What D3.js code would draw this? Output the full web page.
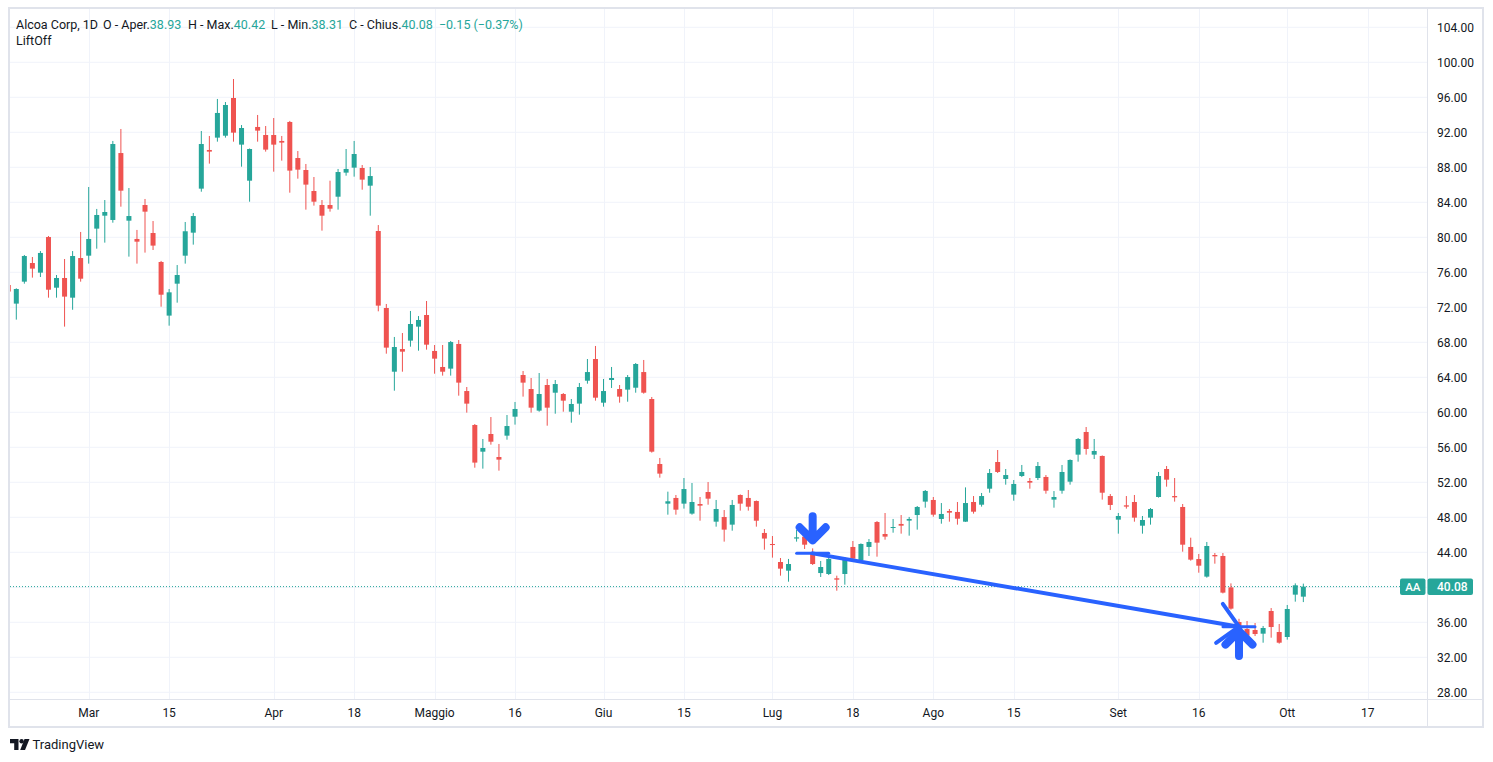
<!DOCTYPE html>
<html>
<head>
<meta charset="utf-8">
<script src="https://cdn.jsdelivr.net/npm/d3@7"></script>
<style>
  body { margin: 0; background: #ffffff; }
  text { font-family: Roboto, "Liberation Sans", sans-serif; fill: #131722; }
</style>
</head>
<body>
<div id="chart"></div>
<script>
// daily sessions (2022), month-day
var dates = [
  "02-14","02-15","02-16","02-17","02-18","02-22","02-23","02-24","02-25","02-28",
  "03-01","03-02","03-03","03-04","03-07","03-08","03-09","03-10","03-11","03-14","03-15","03-16","03-17","03-18","03-21","03-22","03-23","03-24","03-25","03-28","03-29","03-30","03-31",
  "04-01","04-04","04-05","04-06","04-07","04-08","04-11","04-12","04-13","04-14","04-18","04-19","04-20","04-21","04-22","04-25","04-26","04-27","04-28","04-29",
  "05-02","05-03","05-04","05-05","05-06","05-09","05-10","05-11","05-12","05-13","05-16","05-17","05-18","05-19","05-20","05-23","05-24","05-25","05-26","05-27","05-31",
  "06-01","06-02","06-03","06-06","06-07","06-08","06-09","06-10","06-13","06-14","06-15","06-16","06-17","06-21","06-22","06-23","06-24","06-27","06-28","06-29","06-30",
  "07-01","07-05","07-06","07-07","07-08","07-11","07-12","07-13","07-14","07-15","07-18","07-19","07-20","07-21","07-22","07-25","07-26","07-27","07-28","07-29",
  "08-01","08-02","08-03","08-04","08-05","08-08","08-09","08-10","08-11","08-12","08-15","08-16","08-17","08-18","08-19","08-22","08-23","08-24","08-25","08-26","08-29","08-30","08-31",
  "09-01","09-02","09-06","09-07","09-08","09-09","09-12","09-13","09-14","09-15","09-16","09-19","09-20","09-21","09-22","09-23","09-26","09-27","09-28","09-29","09-30",
  "10-03","10-04","10-05"
];
// empty sessions to the right of the last bar
var futureDates = ["10-06","10-07","10-10","10-11","10-12","10-13","10-14","10-17","10-18","10-19","10-20","10-21","10-24","10-25","10-26"];

var open = [74.55,72.42,74.93,77.06,75.96,80.03,74.24,75.35,73.10,77.63,
  77.90,80.99,82.47,81.98,89.63,81.90,79.81,83.69,80.49,77.18,71.05,74.70,77.90,80.53,85.56,89.98,91.39,91.61,95.92,90.59,86.47,92.61,91.69,
  91.69,91.01,93.18,89.06,87.69,85.29,83.69,83.69,84.64,87.39,87.96,87.92,85.90,80.72,71.92,64.64,67.23,68.19,69.79,71.12,
  67.01,65.18,64.99,67.81,62.43,58.55,55.50,57.52,54.89,57.33,59.50,64.26,62.66,60.19,63.12,62.24,62.09,60.07,60.99,63.61,66.09,
  61.10,63.69,62.66,62.59,62.81,64.60,61.52,54.09,49.56,50.21,49.56,48.42,49.52,50.89,47.50,48.03,47.16,50.55,50.21,49.86,46.21,
  44.95,42.89,41.90,45.57,45.79,43.88,41.63,41.52,41.03,41.52,44.61,43.12,44.61,47.46,46.09,46.82,47.24,47.62,48.26,49.79,
  49.98,47.81,48.72,48.61,47.50,49.75,49.44,51.27,54.32,52.38,50.59,52.72,52.15,52.49,52.61,50.02,51.04,52.07,55.16,57.75,55.16,55.01,50.43,
  47.73,49.37,49.75,47.04,47.96,50.32,53.52,50.43,49.18,44.61,43.23,41.22,43.69,43.58,39.99,36.03,35.23,35.12,34.70,37.29,34.89,
  34.32,39.16,38.93];
var high = [74.90,74.17,77.98,77.75,78.43,80.15,75.69,77.52,78.43,80.61,
  85.75,83.24,84.26,91.01,92.38,85.63,80.84,84.38,81.86,77.30,74.09,76.83,81.75,82.78,92.15,91.58,95.81,95.46,98.09,92.83,90.15,93.98,92.72,
  93.63,91.58,93.30,89.86,88.38,86.89,84.26,86.47,87.81,90.09,91.01,88.26,88.03,81.40,72.38,68.61,69.06,71.58,71.00,72.72,
  67.69,67.69,68.15,68.26,62.89,58.66,56.95,59.46,56.38,59.69,61.18,64.72,63.92,64.49,63.81,63.69,62.20,61.52,63.35,66.09,67.58,
  63.81,65.18,63.12,64.26,65.63,65.98,61.75,54.78,50.93,50.55,52.49,51.92,50.32,52.03,49.98,48.83,49.98,50.62,51.12,49.92,46.66,
  45.86,43.35,43.24,46.55,46.05,44.45,43.01,43.46,41.33,43.46,45.29,45.02,45.52,47.57,48.49,47.81,48.26,48.04,49.29,51.12,
  50.32,49.63,48.95,49.75,51.42,50.43,50.78,53.52,55.69,53.52,52.26,53.98,52.49,54.32,52.83,51.00,53.98,54.62,57.06,58.32,56.95,55.07,50.66,
  48.49,50.43,50.55,48.15,49.06,53.18,53.86,52.49,49.52,45.67,43.81,45.18,43.92,43.92,40.45,36.40,36.15,35.92,35.58,37.63,35.81,
  37.98,40.45,40.42];
var low = [73.50,70.59,74.70,75.39,75.46,73.10,73.10,69.79,71.72,74.93,
  76.99,78.70,79.39,81.67,83.50,77.79,76.99,78.25,78.55,72.07,69.90,72.53,76.99,79.16,85.21,88.42,90.93,91.39,90.93,88.07,84.07,90.93,89.79,
  87.50,88.76,85.10,86.70,83.16,83.62,80.76,82.93,83.16,87.04,86.93,85.44,82.47,71.54,66.70,62.47,64.64,67.50,67.04,67.16,
  64.41,64.19,64.19,61.90,59.96,53.67,53.56,56.30,53.33,56.87,58.59,61.79,59.96,60.07,58.47,59.84,60.07,58.81,59.73,63.27,61.33,
  60.64,62.78,61.10,61.21,62.24,62.13,55.39,52.53,48.30,48.30,48.99,48.30,47.61,49.44,46.93,45.22,46.47,48.76,48.76,46.93,44.30,
  43.39,41.33,40.64,45.22,44.38,42.55,41.18,41.40,39.61,40.30,43.12,43.08,43.58,43.50,45.44,46.24,46.13,45.90,46.59,49.10,
  48.07,47.27,47.50,47.16,47.48,48.42,49.22,50.81,53.06,51.73,49.90,52.60,51.27,52.26,50.70,49.10,50.70,51.73,54.36,55.16,54.66,50.02,48.83,
  46.13,48.99,47.50,46.13,47.16,50.25,51.50,49.79,44.07,43.04,41.67,41.10,42.70,39.30,37.44,35.45,34.40,34.43,33.67,34.24,33.56,
  34.02,38.36,38.31];
var close = [73.80,74.09,77.86,76.42,78.21,74.01,75.35,73.22,77.86,75.27,
  79.81,82.55,82.89,90.66,85.33,82.43,79.50,82.93,79.05,73.44,73.71,75.69,80.69,82.43,90.66,89.79,94.21,95.12,91.96,92.49,90.09,92.19,90.02,
  90.59,90.82,87.62,87.73,86.02,84.07,82.47,83.27,87.46,87.81,89.52,86.59,87.00,72.19,67.39,67.46,66.93,70.09,70.55,67.73,
  66.13,64.64,68.03,63.39,60.99,54.25,55.92,56.64,54.59,58.43,60.38,63.39,60.53,62.09,60.53,63.23,61.33,60.95,62.89,64.60,61.67,
  62.43,63.92,61.79,64.03,65.52,62.24,55.50,52.99,49.83,48.87,51.23,49.75,49.33,50.13,48.95,46.59,49.41,49.56,49.21,47.61,45.57,
  44.83,42.13,42.66,45.71,44.87,42.66,42.32,43.24,40.87,43.12,43.27,44.95,45.18,45.10,45.79,46.89,47.04,47.81,49.18,51.01,
  48.30,48.38,48.53,47.84,49.63,48.64,50.43,53.06,53.18,52.83,51.81,53.18,51.96,53.86,51.04,50.32,53.18,54.55,56.95,55.81,55.58,50.81,49.41,
  48.15,49.22,47.96,47.69,48.95,52.72,52.30,50.28,44.87,43.16,42.47,44.72,43.54,39.39,37.56,35.50,34.47,34.66,35.35,35.46,33.67,
  37.52,40.23,40.08];

var priceTicks = [104, 100, 96, 92, 88, 84, 80, 76, 72, 68, 64, 60, 56, 52, 48, 44, 40, 36, 32, 28];
var timeTickDates = ["03-01","03-15","04-01","04-18","05-02","05-16","06-01","06-15","07-01","07-18","08-01","08-15","09-01","09-16","10-03","10-17"];
var timeTickLabels = ["Mar","15","Apr","18","Maggio","16","Giu","15","Lug","18","Ago","15","Set","16","Ott","17"];

// LiftOff signal: start and end of the drawn line
var signalDates = ["07-11", "09-23"];
var signalPrices = [43.88, 35.50];

var upColor = "#26a69a", downColor = "#ef5350", blue = "#2962ff";
var gridColor = "#f0f3fa", borderColor = "#e0e3eb";

var W = 1493, H = 762;
var plot = { left: 10, top: 9, right: 1427, bottom: 699 };

var allDates = dates.concat(futureDates);
var xIndex = d3.scaleOrdinal().domain(allDates).range(d3.range(allDates.length));

var x = d3.scaleLinear()
  .domain([0, allDates.length - 1])
  .range([8.26, 1424.0]);
var y = d3.scaleLinear()
  .domain([28, 100])
  .range([692.3, 62.3]);
function xd(d) { return x(xIndex(d)); }

var bars = dates.map(function(d, i) {
  return { date: d, o: open[i], h: high[i], l: low[i], c: close[i] };
});

var svg = d3.select("#chart").append("svg")
  .attr("width", W).attr("height", H);

svg.append("defs").append("clipPath").attr("id", "plotClip")
  .append("rect")
  .attr("x", plot.left).attr("y", plot.top)
  .attr("width", plot.right - plot.left).attr("height", plot.bottom - plot.top);

// grid
var grid = svg.append("g");
grid.selectAll(".hg").data(priceTicks).enter().append("line")
  .attr("x1", plot.left).attr("x2", plot.right)
  .attr("y1", d => y(d)).attr("y2", d => y(d))
  .attr("stroke", gridColor).attr("stroke-width", 1);
grid.selectAll(".vg").data(timeTickDates).enter().append("line")
  .attr("x1", d => Math.round(xd(d)) + 0.5).attr("x2", d => Math.round(xd(d)) + 0.5)
  .attr("y1", plot.top).attr("y2", plot.bottom)
  .attr("stroke", gridColor).attr("stroke-width", 1);

var chartGroup = svg.append("g").attr("clip-path", "url(#plotClip)");

// last price dotted line
var last = bars[bars.length - 1];
chartGroup.append("line")
  .attr("x1", plot.left).attr("x2", 1400)
  .attr("y1", y(last.c)).attr("y2", y(last.c))
  .attr("stroke", upColor).attr("stroke-width", 1)
  .attr("stroke-dasharray", "1,2");

// candles
var candles = chartGroup.selectAll(".candle").data(bars).enter().append("g");
candles.append("line")
  .attr("x1", d => xd(d.date)).attr("x2", d => xd(d.date))
  .attr("y1", d => y(d.h)).attr("y2", d => y(d.l))
  .attr("stroke", d => d.c >= d.o ? upColor : downColor)
  .attr("stroke-width", 1);
candles.append("rect")
  .attr("x", d => xd(d.date) - 2.5)
  .attr("width", 5)
  .attr("y", d => y(Math.max(d.o, d.c)))
  .attr("height", d => Math.max(1, Math.abs(y(d.o) - y(d.c))))
  .attr("fill", d => d.c >= d.o ? upColor : downColor);

// LiftOff drawings
var sig = chartGroup.append("g")
  .attr("fill", "none").attr("stroke", blue)
  .attr("stroke-linecap", "round").attr("stroke-linejoin", "round");

var x0 = xd(signalDates[0]), y0 = y(signalPrices[0]);
var x1 = xd(signalDates[1]), y1 = y(signalPrices[1]);
sig.append("line").attr("x1", x0).attr("y1", y0).attr("x2", x1).attr("y2", y1)
  .attr("stroke-width", 4);
[[x0, y0], [x1, y1]].forEach(function(p) {
  sig.append("line").attr("x1", p[0] - 16).attr("x2", p[0] + 16)
    .attr("y1", p[1]).attr("y2", p[1]).attr("stroke-width", 3);
});
// arrow head at the end of the line
var ang = Math.atan2(y1 - y0, x1 - x0) + Math.PI;
var wing = 28, spread = Math.PI / 4;
sig.append("path")
  .attr("d", "M" + (x1 + wing * Math.cos(ang - spread)) + "," + (y1 + wing * Math.sin(ang - spread)) +
             "L" + x1 + "," + y1 +
             "L" + (x1 + wing * Math.cos(ang + spread)) + "," + (y1 + wing * Math.sin(ang + spread)))
  .attr("stroke-width", 4);

// big arrows: down above the first signal bar, up below the second
var b0 = bars[dates.indexOf(signalDates[0])];
var b1 = bars[dates.indexOf(signalDates[1])];
var tipD = y(b0.h) - 8;
sig.append("path")
  .attr("d", "M" + x0 + "," + (tipD - 24) + "V" + tipD +
             "M" + (x0 - 13) + "," + (tipD - 13) + "L" + x0 + "," + tipD + "L" + (x0 + 13) + "," + (tipD - 13))
  .attr("stroke-width", 8);
var tipU = y(b1.l) + 4;
sig.append("path")
  .attr("d", "M" + x1 + "," + (tipU + 25) + "V" + tipU +
             "M" + (x1 - 13.5) + "," + (tipU + 13.5) + "L" + x1 + "," + tipU + "L" + (x1 + 13.5) + "," + (tipU + 13.5))
  .attr("stroke-width", 8);

// pane borders
svg.append("rect")
  .attr("x", 9).attr("y", 8).attr("width", 1474).attr("height", 719)
  .attr("fill", "none").attr("stroke", borderColor).attr("stroke-width", 2);
svg.append("line").attr("x1", plot.right + 0.5).attr("x2", plot.right + 0.5)
  .attr("y1", 8).attr("y2", 727).attr("stroke", borderColor);
svg.append("line").attr("x1", 9).attr("x2", 1483)
  .attr("y1", plot.bottom + 0.5).attr("y2", plot.bottom + 0.5).attr("stroke", borderColor);

// price axis
var yAxisG = svg.append("g");
yAxisG.selectAll("text").data(priceTicks).enter().append("text")
  .attr("x", 1437).attr("y", d => y(d)).attr("dy", "0.35em")
  .style("font-size", "12px")
  .text(d => d3.format(".2f")(d));

// last price labels
var ly = y(last.c);
svg.append("rect").attr("x", 1400).attr("y", ly - 8).attr("width", 25.5).attr("height", 16.5)
  .attr("rx", 2).attr("fill", upColor);
svg.append("text").attr("x", 1412.8).attr("y", ly).attr("dy", "0.36em")
  .attr("text-anchor", "middle").style("fill", "#fff").style("font-size", "11.5px").style("font-weight", "500")
  .text("AA");
svg.append("rect").attr("x", 1427.5).attr("y", ly - 8).attr("width", 45.5).attr("height", 16.5)
  .attr("rx", 2).attr("fill", upColor);
svg.append("text").attr("x", 1437).attr("y", ly).attr("dy", "0.36em")
  .style("fill", "#fff").style("font-size", "12px").style("font-weight", "500")
  .text(d3.format(".2f")(last.c));

// time axis
var xAxisG = svg.append("g");
xAxisG.selectAll("text").data(timeTickDates).enter().append("text")
  .attr("x", d => xd(d)).attr("y", 713).attr("dy", "0.35em")
  .attr("text-anchor", "middle")
  .style("font-size", "12px")
  .text((d, i) => timeTickLabels[i]);

// legend: labels at fixed places, values right after them
var prev = bars[bars.length - 2];
var chg = last.c - prev.c;
var legendColor = last.c >= last.o ? upColor : downColor;
var f2 = d3.format(".2f");
var legend = svg.append("text").attr("y", 25).attr("dy", "0.35em").style("font-size", "12.5px");
var parts = [
  { x: 16, t: "Alcoa Corp, 1D", v: null },
  { x: 103, t: "O - Aper.", v: f2(last.o) },
  { x: 188, t: "H - Max.", v: f2(last.h) },
  { x: 271, t: "L - Min.", v: f2(last.l) },
  { x: 349, t: "C - Chius.", v: f2(last.c) }
];
parts.forEach(function(p) {
  legend.append("tspan").attr("x", p.x).text(p.t);
  if (p.v) legend.append("tspan").style("fill", legendColor).text(p.v);
});
legend.append("tspan").attr("dx", 6).style("fill", legendColor)
  .text(f2(chg).replace("-", "\u2212") + " (" + f2(chg / prev.c * 100).replace("-", "\u2212") + "%)");
svg.append("text").attr("x", 16).attr("y", 41).attr("dy", "0.35em")
  .style("font-size", "12.5px").text("LiftOff");

// TradingView mark
var logo = svg.append("g").attr("fill", "#131722");
logo.append("path").attr("d", "M10,739H18.5V750H14.2V743.2H10Z");
logo.append("circle").attr("cx", 21.6).attr("cy", 741.2).attr("r", 2.2);
logo.append("path").attr("d", "M24.5,739H29.5L25,750H20.2Z");
svg.append("text").attr("x", 32.5).attr("y", 744).attr("dy", "0.35em")
  .style("font-size", "13px").text("TradingView");
</script>
</body>
</html>
